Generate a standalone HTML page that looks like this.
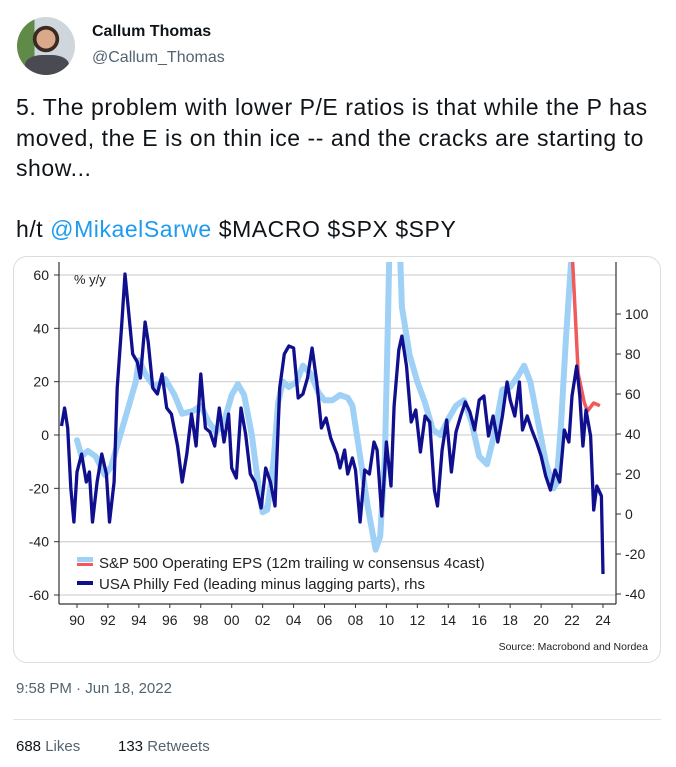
<!DOCTYPE html>
<html><head><meta charset="utf-8"><style>
body{margin:0;width:676px;height:767px;background:#fff;position:relative;overflow:hidden;font-family:"Segoe UI","Liberation Sans",sans-serif;color:#0f1419}
.abs{position:absolute;white-space:nowrap}
</style></head><body>
<div class="abs" style="left:17px;top:17px;width:58px;height:58px;border-radius:50%;background:radial-gradient(circle at 50% 38%,#d9a98a 0 20%,#3a2a22 21% 28%,transparent 29%),linear-gradient(90deg,#5f8a48 0 30%,#cfd6dc 30%);overflow:hidden"><div style="position:absolute;left:8px;top:38px;width:44px;height:24px;background:#4a4a52;border-radius:40% 40% 0 0"></div></div>
<div class="abs" style="left:92px;top:23px;font-size:16px;font-weight:bold">Callum Thomas</div>
<div class="abs" style="left:92px;top:49px;font-size:16px;color:#536471">@Callum_Thomas</div>
<div class="abs" style="left:16px;top:92px;font-size:23px;letter-spacing:0.55px;line-height:30.5px;white-space:normal;width:655px">5. The problem with lower P/E ratios is that while the P has moved, the E is on thin ice -- and the cracks are starting to show...<br><br>h/t <span style="color:#1d9bf0">@MikaelSarwe</span> $MACRO $SPX $SPY</div>
<div class="abs" style="left:13px;top:256px;width:646px;height:405px;border:1px solid #d8dde1;border-radius:14px"></div>
<svg class="abs" style="left:0;top:0" width="676" height="767" font-family="Liberation Sans, sans-serif">
<defs><clipPath id="plot"><rect x="59" y="262" width="557" height="341"/></clipPath></defs>
<g id="grid"></g><g id="axes"></g>
<g clip-path="url(#plot)" id="series"></g>
<text x="74" y="284" font-size="13" fill="#222">% y/y</text>
<g>
<rect x="77" y="557" width="16" height="5" fill="#9fd0f5"/><rect x="77" y="563" width="16" height="3" fill="#f05a5a"/>
<text x="99" y="568" font-size="15" fill="#222">S&amp;P 500 Operating EPS (12m trailing w consensus 4cast)</text>
<rect x="77" y="581" width="16" height="4" fill="#10108f"/>
<text x="99" y="589" font-size="15" fill="#222">USA Philly Fed (leading minus lagging parts), rhs</text>
</g>
<text x="648" y="650" font-size="10.5" text-anchor="end" fill="#222">Source: Macrobond and Nordea</text>
</svg>
<div class="abs" style="left:16px;top:680px;font-size:15px;color:#536471">9:58 PM · Jun 18, 2022</div>
<div class="abs" style="left:13px;top:719px;width:648px;height:1px;background:#dfe3e6"></div>
<div class="abs" style="left:16px;top:738px;font-size:15px;color:#536471"><b style="color:#0f1419;font-weight:normal">688</b> Likes</div>
<div class="abs" style="left:118px;top:738px;font-size:15px;color:#536471"><b style="color:#0f1419;font-weight:normal">133</b> Retweets</div>
<script>
const leftTicks=[60,40,20,0,-20,-40,-60];
const rightTicks=[100,80,60,40,20,0,-20,-40];
const xTickLabels=["90","92","94","96","98","00","02","04","06","08","10","12","14","16","18","20","22","24"];
const epsYears=[1990,1990.3,1990.7,1991.2,1991.8,1992.2,1992.8,1993.3,1993.8,1994,1994.5,1995,1995.7,1996.3,1996.8,1997.5,1998,1998.5,1999,1999.5,2000,2000.4,2000.8,2001.3,2001.8,2002,2002.3,2002.7,2003,2003.3,2003.7,2004.2,2004.6,2005.1,2005.6,2006,2006.5,2007,2007.5,2007.8,2008.3,2008.8,2009.3,2009.6,2009.9,2010.1,2010.3,2010.7,2011,2011.5,2012,2012.5,2013,2013.5,2014,2014.5,2015,2015.5,2016,2016.5,2017,2017.5,2018,2018.5,2018.9,2019.3,2019.8,2020.3,2020.8,2021,2021.3,2021.6,2022];
const epsValues=[-2,-8,-6,-8,-15,-12,0,10,20,28,22,18,21,15,8,9,11,5,1,5,15,19,15,0,-22,-29,-28,-10,12,20,18,20,26,23,16,13,13,15,14,11,-8,-27,-43,-38,-8,42,100,100,48,30,20,12,2,0,6,11,13,5,-8,-11,1,17,18,22,26,20,5,-10,-20,-18,5,36,70];
const fcstYears=[2022,2022.4,2022.8,2023,2023.4,2023.8];
const fcstValues=[70,23,12,9,12,11];
const fedYears=[1989,1989.2,1989.4,1989.6,1989.8,1990,1990.3,1990.6,1990.8,1991,1991.3,1991.6,1991.9,1992.1,1992.4,1992.6,1992.9,1993.1,1993.4,1993.6,1993.9,1994.1,1994.4,1994.6,1994.9,1995.2,1995.5,1995.8,1996.1,1996.5,1996.8,1997.1,1997.4,1997.7,1998,1998.3,1998.6,1998.9,1999.2,1999.5,1999.8,2000,2000.3,2000.6,2000.9,2001.2,2001.5,2001.9,2002.2,2002.5,2002.8,2003.1,2003.4,2003.7,2004,2004.3,2004.6,2004.9,2005.2,2005.5,2005.8,2006.1,2006.4,2006.8,2007,2007.3,2007.5,2007.8,2008,2008.3,2008.6,2008.9,2009.2,2009.4,2009.7,2010,2010.3,2010.5,2010.8,2011,2011.3,2011.6,2011.9,2012.2,2012.5,2012.8,2013.1,2013.3,2013.6,2013.9,2014.2,2014.5,2014.8,2015.1,2015.4,2015.7,2016,2016.3,2016.6,2016.9,2017.2,2017.5,2017.8,2018,2018.3,2018.6,2018.8,2019.1,2019.4,2019.7,2020,2020.3,2020.6,2020.9,2021.2,2021.5,2021.8,2022,2022.3,2022.5,2022.7,2022.9,2023.2,2023.4,2023.6,2023.9,2024];
const fedValues=[44,53,43,13,-4,21,30,16,21,-4,16,30,20,-4,16,63,96,120,96,80,76,68,96,86,63,60,70,53,50,34,16,30,50,34,70,43,41,34,53,36,50,23,18,53,40,20,16,3,23,16,4,63,80,84,83,58,60,68,83,66,43,48,38,30,23,32,20,28,22,-4,22,20,36,32,-1,36,14,54,82,89,74,46,52,31,49,46,12,4,32,47,21,41,49,56,51,42,57,59,39,49,36,49,66,57,49,66,42,49,42,36,29,19,12,22,16,42,36,59,74,59,34,52,39,2,14,9,-30];
const NS="http://www.w3.org/2000/svg";
const X=y=>77+(y-1990)*15.47, YL=v=>435-v*2.667, YR=v=>514-v*2.0;
function mk(parent,tag,attrs){const e=document.createElementNS(NS,tag);for(const k in attrs)e.setAttribute(k,attrs[k]);parent.appendChild(e);return e;}
const grid=document.getElementById('grid'),axes=document.getElementById('axes'),ser=document.getElementById('series');
leftTicks.forEach(v=>{
  const l=mk(grid,'line',{x1:59,x2:616,y1:YL(v),y2:YL(v),stroke:'#d4d4d4','stroke-width':1.3});
  
  
  mk(axes,'line',{x1:54,x2:59,y1:YL(v),y2:YL(v),stroke:'#333'});
  const t=mk(axes,'text',{x:49,y:YL(v)+5,'font-size':14,'text-anchor':'end',fill:'#222'});t.textContent=v;
  
  
});
rightTicks.forEach(v=>{
  mk(axes,'line',{x1:616,x2:621,y1:YR(v),y2:YR(v),stroke:'#333'});
  const t=mk(axes,'text',{x:625,y:YR(v)+5,'font-size':14,fill:'#222'});t.textContent=v;
  
  
});
xTickLabels.forEach((s,i)=>{
  const yr=1990+i*2;
  mk(axes,'line',{x1:X(yr),x2:X(yr),y1:604,y2:608,stroke:'#333'});
  const t=mk(axes,'text',{x:X(yr),y:625,'font-size':14,'text-anchor':'middle',fill:'#222'});t.textContent=s;
  
  
});
mk(axes,'line',{x1:59,x2:59,y1:262,y2:604,stroke:'#333','stroke-width':1.2});
mk(axes,'line',{x1:616,x2:616,y1:262,y2:604,stroke:'#333','stroke-width':1.2});
mk(axes,'line',{x1:59,x2:616,y1:604,y2:604,stroke:'#333','stroke-width':1.2});
function pts(xs,vs,f){return xs.map((x,i)=>X(x).toFixed(1)+','+f(vs[i]).toFixed(1)).join(' ');}
const e=mk(ser,'polyline',{points:pts(epsYears,epsValues,YL),fill:'none',stroke:'#9fd0f5','stroke-width':6,'stroke-linejoin':'round','stroke-linecap':'round'});


const r=mk(ser,'polyline',{points:pts(fcstYears,fcstValues,YL),fill:'none',stroke:'#f05a5a','stroke-width':3.5,'stroke-linejoin':'round'});


const f=mk(ser,'polyline',{points:pts(fedYears,fedValues,YR),fill:'none',stroke:'#10108f','stroke-width':3.3,'stroke-linejoin':'round'});


</script>
</body></html>
